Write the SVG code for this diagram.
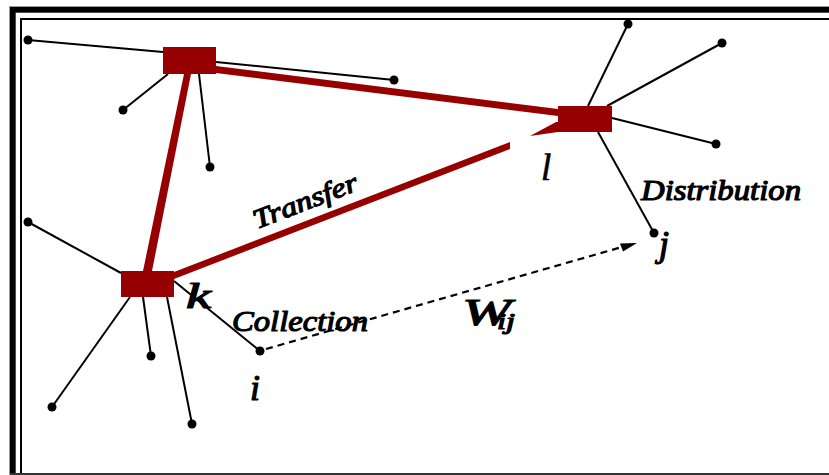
<svg xmlns="http://www.w3.org/2000/svg" width="829" height="475" viewBox="0 0 829 475">
<style>
.hub{fill:#960000}
.red{fill:#960000}
.spoke{stroke:#000;stroke-width:2;fill:none}
.dot{fill:#000}
.dash{stroke:#000;stroke-width:2.2;fill:none;stroke-dasharray:7 5}
.lbl{font-family:'Liberation Serif',serif;font-style:italic;font-weight:normal;fill:#000;stroke:#000;stroke-width:1.2;stroke-linejoin:round}
.lt{font-family:'Liberation Serif',serif;font-style:italic;fill:#000;stroke:#000;stroke-width:0.6}
</style>
<rect width="829" height="475" fill="#fff"/>
<g id="frame">
<rect x="9" y="6" width="820" height="7" fill="#9a9a9a"/>
<rect x="9" y="6" width="7" height="469" fill="#9a9a9a"/>
<rect x="10" y="7" width="819" height="5.5" fill="#000"/>
<rect x="10" y="7" width="5.5" height="468" fill="#000"/>
<line x1="20" y1="19" x2="829" y2="19" stroke="#000" stroke-width="2"/>
<line x1="21" y1="18" x2="21" y2="475" stroke="#000" stroke-width="2"/>
<line x1="10" y1="474" x2="829" y2="474" stroke="#333" stroke-width="2"/>
</g>
<g id="connectors">
<polygon class="red" points="216,66 558,109 558,116 216,73"/>
<polygon class="red" points="184,74 191,74 152,271 143,271"/>
<polygon class="red" points="174,272 510,142 510,149 174,279"/>
<polygon class="red" points="530,136 556,122 558,122 558,132"/>
<line class="spoke" x1="28" y1="40" x2="163" y2="52"/>
<line class="spoke" x1="216" y1="62" x2="394" y2="80"/>
<line class="spoke" x1="168" y1="74" x2="123" y2="110"/>
<line class="spoke" x1="199" y1="74" x2="210" y2="167"/>
<line class="spoke" x1="588" y1="106" x2="628" y2="24"/>
<line class="spoke" x1="607" y1="106" x2="722" y2="43"/>
<line class="spoke" x1="612" y1="118" x2="716" y2="144"/>
<line class="spoke" x1="598" y1="132" x2="654" y2="233"/>
<line class="spoke" x1="28" y1="222" x2="121" y2="273"/>
<line class="spoke" x1="130" y1="297" x2="52" y2="407"/>
<line class="spoke" x1="143" y1="297" x2="151" y2="356"/>
<line class="spoke" x1="167" y1="297" x2="192" y2="424"/>
<line class="spoke" x1="174" y1="281" x2="260" y2="351"/>
<line class="dash" x1="266" y1="349" x2="622" y2="247"/>
<polygon points="637,243 620,243.5 623,251.5" fill="#000"/>
</g>
<g id="hub-top"><rect class="hub" x="163" y="47" width="53" height="27"/></g>
<g id="hub-l"><rect class="hub" x="558" y="106" width="54" height="26"/></g>
<g id="hub-k"><rect class="hub" x="121" y="271" width="53" height="26"/></g>
<g id="points">
<circle class="dot" cx="28" cy="40" r="4.5"/>
<circle class="dot" cx="394" cy="80" r="4.5"/>
<circle class="dot" cx="123" cy="110" r="4.5"/>
<circle class="dot" cx="210" cy="167" r="4.5"/>
<circle class="dot" cx="628" cy="24" r="4.5"/>
<circle class="dot" cx="722" cy="43" r="4.5"/>
<circle class="dot" cx="716" cy="144" r="4.5"/>
<circle class="dot" cx="654" cy="233" r="4.5"/>
<circle class="dot" cx="28" cy="222" r="4.5"/>
<circle class="dot" cx="52" cy="407" r="4.5"/>
<circle class="dot" cx="151" cy="356" r="4.5"/>
<circle class="dot" cx="192" cy="424" r="4.5"/>
<circle class="dot" cx="260" cy="351" r="4.5"/>
</g>
<g id="labels">
<text class="lbl" x="257" y="229" font-size="27" transform="rotate(-21 257 229)" textLength="110" lengthAdjust="spacingAndGlyphs">Transfer</text>
<text class="lt" x="541" y="180" font-size="37">l</text>
<text class="lbl" x="641" y="200" font-size="29" textLength="160" lengthAdjust="spacingAndGlyphs">Distribution</text>
<text class="lbl" x="186" y="308" font-size="36" textLength="25" lengthAdjust="spacingAndGlyphs">k</text>
<text class="lbl" x="232" y="331" font-size="30" textLength="136" lengthAdjust="spacingAndGlyphs">Collection</text>
<text class="lbl" x="250" y="400" font-size="36">i</text>
<text class="lbl" x="462" y="325" font-size="38" textLength="49" lengthAdjust="spacingAndGlyphs">W</text>
<text class="lbl" x="497" y="329" font-size="24" textLength="18" lengthAdjust="spacingAndGlyphs">ij</text>
<text class="lbl" x="659" y="256" font-size="36">j</text>
</g>
</svg>
